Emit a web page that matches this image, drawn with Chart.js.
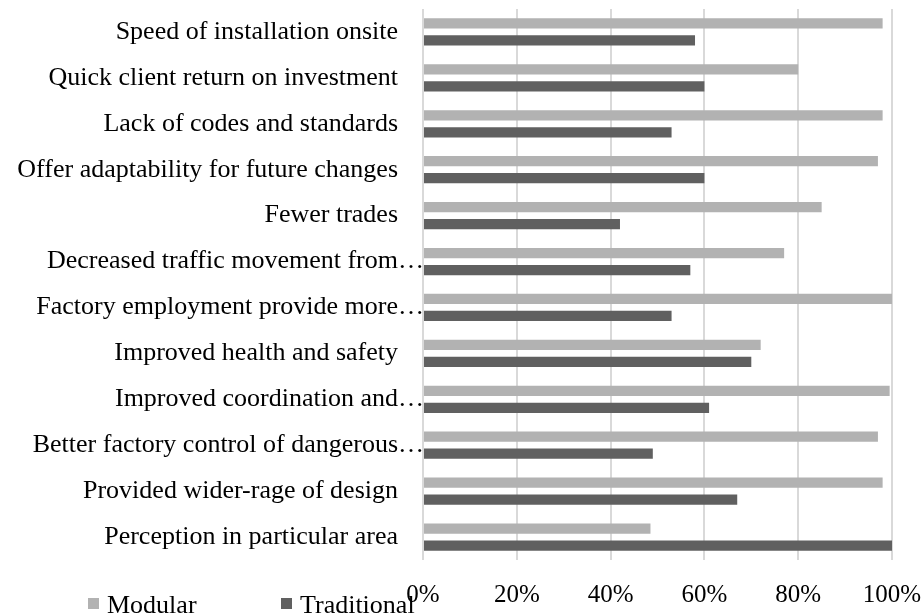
<!DOCTYPE html>
<html>
<head>
<meta charset="utf-8">
<script src="https://cdn.jsdelivr.net/npm/chart.js@4"></script>
<style>
  body { margin: 0; background: #fff; }
  #wrap { width: 923px; height: 615px; }
</style>
</head>
<body>
<div id="wrap"><canvas id="chart" width="923" height="615"></canvas></div>
<script>
const categories = [
    'Speed of installation onsite',
    'Quick client return on investment',
    'Lack of codes and standards',
    'Offer adaptability for future changes',
    'Fewer trades',
    'Decreased traffic movement from…',
    'Factory employment provide more…',
    'Improved health and safety',
    'Improved coordination and…',
    'Better factory control of dangerous…',
    'Provided wider-rage of design',
    'Perception in particular area'
];
const modular = [98, 80, 98, 97, 85, 77, 100, 72, 99.5, 97, 98, 48.5];
const traditional = [58, 60, 53, 60, 42, 57, 53, 70, 61, 49, 67, 100];
const xTicks = [0, 20, 40, 60, 80, 100];

const FONT = "'Liberation Serif', 'Times New Roman', serif";

// category labels drawn like Excel: text right-aligned, ellipsis hanging past the edge
const yLabels = {
    id: 'yLabels',
    afterDraw(chart) {
        const ctx = chart.ctx;
        const ys = chart.scales.y;
        ctx.save();
        ctx.font = '26px ' + FONT;
        ctx.fillStyle = '#000';
        ctx.textBaseline = 'middle';
        const right = 398;
        categories.forEach((lab, i) => {
            const y = ys.getPixelForTick(i);
            if (lab.endsWith('…')) {
                ctx.textAlign = 'right';
                ctx.fillText(lab.slice(0, -1), right, y);
                ctx.textAlign = 'left';
                ctx.fillText('…', right, y);
            } else {
                ctx.textAlign = 'right';
                ctx.fillText(lab, right, y);
            }
        });
        ctx.restore();
    }
};

// legend sits at bottom left, overlapping the axis area as in the original
const bottomLegend = {
    id: 'bottomLegend',
    afterDraw(chart) {
        const ctx = chart.ctx;
        const spots = [88, 281];
        ctx.save();
        ctx.font = '26px ' + FONT;
        ctx.textBaseline = 'alphabetic';
        ctx.textAlign = 'left';
        chart.data.datasets.forEach((ds, i) => {
            ctx.fillStyle = ds.backgroundColor;
            ctx.fillRect(spots[i], 598, 11, 11);
            ctx.fillStyle = '#000';
            ctx.fillText(ds.label, spots[i] + 19, 613);
        });
        ctx.restore();
    }
};

new Chart(document.getElementById('chart'), {
    type: 'bar',
    data: {
        labels: categories,
        datasets: [{
            label: 'Modular',
            data: modular,
            backgroundColor: '#b2b2b2',
            borderWidth: 0,
            categoryPercentage: 0.74,
            barPercentage: 0.6
        }, {
            label: 'Traditional',
            data: traditional,
            backgroundColor: '#606060',
            borderWidth: 0,
            categoryPercentage: 0.74,
            barPercentage: 0.6
        }]
    },
    options: {
        indexAxis: 'y',
        responsive: false,
        animation: false,
        layout: { padding: { top: 9, right: 31, left: 0, bottom: 0 } },
        plugins: {
            legend: { display: false },
            tooltip: { enabled: false }
        },
        scales: {
            x: {
                min: 0,
                max: 100,
                afterBuildTicks: s => { s.ticks = xTicks.map(v => ({ value: v })); },
                afterFit: s => { s.height = 55; s.paddingLeft = 0; s.paddingRight = 0; },
                grid: { color: '#d9d9d9', lineWidth: 2, drawTicks: false },
                border: { display: false },
                ticks: {
                    padding: 20,
                    color: '#000',
                    font: { family: FONT, size: 25 },
                    callback: v => v + '%'
                }
            },
            y: {
                afterFit: s => { s.width = 423; },
                grid: { display: false },
                border: { display: false },
                ticks: { display: false }
            }
        }
    },
    plugins: [yLabels, bottomLegend]
});
</script>
</body>
</html>
